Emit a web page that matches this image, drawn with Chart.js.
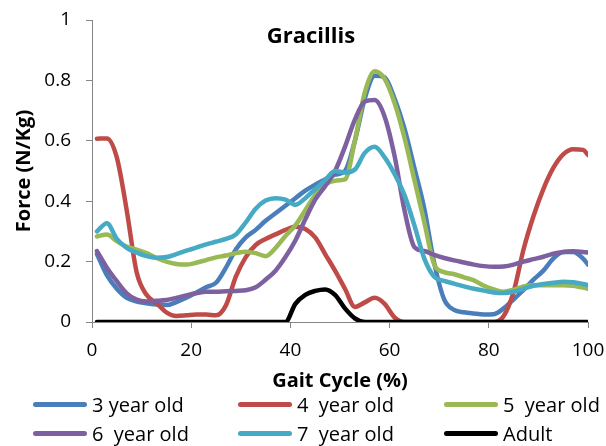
<!DOCTYPE html>
<html>
<head>
<meta charset="utf-8">
<title>Gracillis</title>
<script src="https://cdn.jsdelivr.net/npm/chart.js@4/dist/chart.umd.min.js"></script>
<style>
    body { margin: 0; background: #fff; }
    #wrap { position: relative; width: 606px; height: 446px; }
    #legend { position: absolute; left: 0; top: 0; width: 606px; height: 446px; pointer-events: none; }
    .legend-item {
        position: absolute;
        display: flex;
        align-items: center;
        height: 24px;
        transform: translateY(-50%);
        font: 20px "Open Sans", sans-serif;
        color: #000;
        white-space: pre;
    }
    .legend-swatch { width: 54px; height: 5px; border-radius: 3px; margin-right: 5px; }
</style>
</head>
<body>
<div id="wrap">
    <canvas id="force-chart" width="606" height="446"></canvas>
    <div id="legend"></div>
</div>
<script>
// Gait cycle sample points (%)
const gaitCycle = [1, 3, 5, 7, 9, 11, 13, 15, 17, 19, 21, 23, 25, 27, 29, 31, 33, 35, 37, 39,
    41, 43, 45, 47, 49, 51, 53, 55, 57, 59, 61, 63, 65, 67, 69, 71, 73, 75, 77, 79,
    81, 83, 85, 87, 89, 91, 93, 95, 97, 99, 100];

// Gracillis muscle force (N/Kg) per age group
const year3 = [0.225, 0.155, 0.11, 0.08, 0.068, 0.062, 0.058, 0.056, 0.066, 0.08,
    0.097, 0.115, 0.13, 0.18, 0.24, 0.28, 0.305, 0.335, 0.36, 0.385,
    0.41, 0.435, 0.455, 0.472, 0.488, 0.5, 0.6, 0.74, 0.815, 0.81,
    0.74, 0.64, 0.51, 0.375, 0.195, 0.075, 0.04, 0.032, 0.028, 0.025,
    0.026, 0.045, 0.075, 0.106, 0.14, 0.17, 0.21, 0.232, 0.232, 0.21, 0.19];
const year4 = [0.607, 0.608, 0.545, 0.37, 0.165, 0.09, 0.062, 0.032, 0.02, 0.022,
    0.025, 0.025, 0.022, 0.055, 0.15, 0.215, 0.255, 0.275, 0.29, 0.305,
    0.315, 0.308, 0.28, 0.225, 0.17, 0.11, 0.05, 0.065, 0.08, 0.06,
    0.015, 0, 0, 0, 0, 0, 0, 0, 0, 0,
    0, 0.02, 0.1, 0.24, 0.35, 0.44, 0.51, 0.555, 0.572, 0.57, 0.553];
const year5 = [0.283, 0.29, 0.268, 0.25, 0.24, 0.228, 0.212, 0.2, 0.192, 0.19,
    0.196, 0.205, 0.214, 0.22, 0.228, 0.233, 0.228, 0.218, 0.245, 0.285,
    0.32, 0.37, 0.42, 0.455, 0.468, 0.472, 0.6, 0.76, 0.83, 0.805,
    0.725, 0.61, 0.47, 0.33, 0.19, 0.165, 0.158, 0.148, 0.138, 0.12,
    0.108, 0.1, 0.107, 0.118, 0.122, 0.122, 0.122, 0.122, 0.12, 0.114, 0.11];
const year6 = [0.235, 0.18, 0.135, 0.095, 0.074, 0.068, 0.07, 0.073, 0.08, 0.088,
    0.095, 0.1, 0.1, 0.102, 0.103, 0.105, 0.115, 0.14, 0.17, 0.215,
    0.27, 0.34, 0.405, 0.45, 0.5, 0.58, 0.67, 0.73, 0.735, 0.68,
    0.55, 0.37, 0.248, 0.235, 0.222, 0.212, 0.204, 0.197, 0.19, 0.185,
    0.183, 0.184, 0.19, 0.2, 0.208, 0.216, 0.226, 0.232, 0.234, 0.232, 0.23];
const year7 = [0.3, 0.327, 0.275, 0.245, 0.23, 0.218, 0.213, 0.215, 0.225, 0.236,
    0.246, 0.257, 0.266, 0.275, 0.29, 0.33, 0.375, 0.402, 0.41, 0.405,
    0.388, 0.41, 0.44, 0.47, 0.5, 0.495, 0.505, 0.56, 0.58, 0.545,
    0.49, 0.42, 0.32, 0.21, 0.15, 0.136, 0.127, 0.118, 0.11, 0.104,
    0.098, 0.096, 0.1, 0.11, 0.12, 0.126, 0.13, 0.133, 0.132, 0.126, 0.122];
const adult = [0, 0, 0, 0, 0, 0, 0, 0, 0, 0,
    0, 0, 0, 0, 0, 0, 0, 0, 0, 0,
    0.06, 0.09, 0.103, 0.108, 0.09, 0.045, 0.012, 0, 0, 0,
    0, 0, 0, 0, 0, 0, 0, 0, 0, 0,
    0, 0, 0, 0, 0, 0, 0, 0, 0, 0, 0];

const seriesLabels = ['3 year old', '4  year old', '5  year old', '6  year old', '7  year old', 'Adult'];
const seriesValues = [year3, year4, year5, year6, year7, adult];
const seriesColors = ['#4A7EBB', '#BE4B48', '#98B954', '#7D60A0', '#46AAC5', '#000000'];

const chartTitleText = 'Gracillis';
const xAxisTitle = 'Gait Cycle (%)';
const yAxisTitle = 'Force (N/Kg)';

const axisColor = '#868686';
Chart.defaults.font.family = '"Open Sans", sans-serif';
Chart.defaults.color = '#000';

// Title sits inside the plot area, like the spreadsheet original
const innerTitle = {
    id: 'innerTitle',
    afterDraw(chart) {
        const ctx = chart.ctx;
        ctx.save();
        ctx.font = 'bold 22px "Open Sans", sans-serif';
        ctx.fillStyle = '#000';
        ctx.textAlign = 'center';
        ctx.textBaseline = 'middle';
        ctx.fillText(chartTitleText, 311, 37);
        ctx.restore();
    }
};

/**
 * Build one line dataset per age group
 */
function buildDatasets() {
    return seriesValues.map((values, i) => ({
        label: seriesLabels[i],
        data: gaitCycle.map((x, j) => ({ x: x, y: values[j] })),
        borderColor: seriesColors[i],
        backgroundColor: seriesColors[i],
        borderWidth: 4.5,
        borderCapStyle: 'round',
        borderJoinStyle: 'round',
        pointRadius: 0,
        cubicInterpolationMode: 'monotone',
        // later series are painted over earlier ones
        order: seriesValues.length - i
    }));
}

/**
 * Legend in three columns under the axis
 */
function renderLegend() {
    const legend = document.getElementById('legend');
    const columns = [33, 238, 444];
    const rows = [404, 433];
    seriesLabels.forEach((label, i) => {
        const item = document.createElement('div');
        item.className = 'legend-item';
        item.style.left = columns[i % 3] + 'px';
        item.style.top = rows[Math.floor(i / 3)] + 'px';
        const swatch = document.createElement('span');
        swatch.className = 'legend-swatch';
        swatch.style.background = seriesColors[i];
        const text = document.createElement('span');
        text.textContent = label;
        item.appendChild(swatch);
        item.appendChild(text);
        legend.appendChild(item);
    });
}

const forceChart = new Chart(document.getElementById('force-chart'), {
    type: 'line',
    data: { datasets: buildDatasets() },
    options: {
        responsive: false,
        animation: false,
        layout: { padding: { top: 20, right: 18, left: 0, bottom: 0 } },
        plugins: {
            legend: { display: false },
            tooltip: { enabled: false }
        },
        scales: {
            x: {
                type: 'linear',
                min: 0,
                max: 100,
                ticks: { stepSize: 20, padding: 11, font: { size: 19 } },
                grid: { drawOnChartArea: false, color: axisColor, tickLength: 6 },
                border: { color: axisColor, width: 1 },
                title: {
                    display: true,
                    text: xAxisTitle,
                    font: { size: 20, weight: 'bold' },
                    padding: { top: 4, bottom: 53 }
                },
                afterFit(scale) {
                    // plot edges come from the layout padding, not the tick labels
                    scale.height = 124;
                    scale.paddingLeft = 0;
                    scale.paddingRight = 0;
                }
            },
            y: {
                min: 0,
                max: 1,
                ticks: {
                    stepSize: 0.2,
                    padding: 15,
                    font: { size: 19 },
                    callback: (value) => String(Math.round(value * 10) / 10)
                },
                grid: { drawOnChartArea: false, color: axisColor, tickLength: 6 },
                border: { color: axisColor, width: 1 },
                title: {
                    display: true,
                    text: yAxisTitle,
                    font: { size: 20, weight: 'bold' },
                    padding: { top: 12, bottom: 0 }
                },
                afterFit(scale) {
                    scale.width = 92;
                    scale.paddingTop = 0;
                    scale.paddingBottom = 0;
                }
            }
        }
    },
    plugins: [innerTitle]
});

renderLegend();
</script>
</body>
</html>
